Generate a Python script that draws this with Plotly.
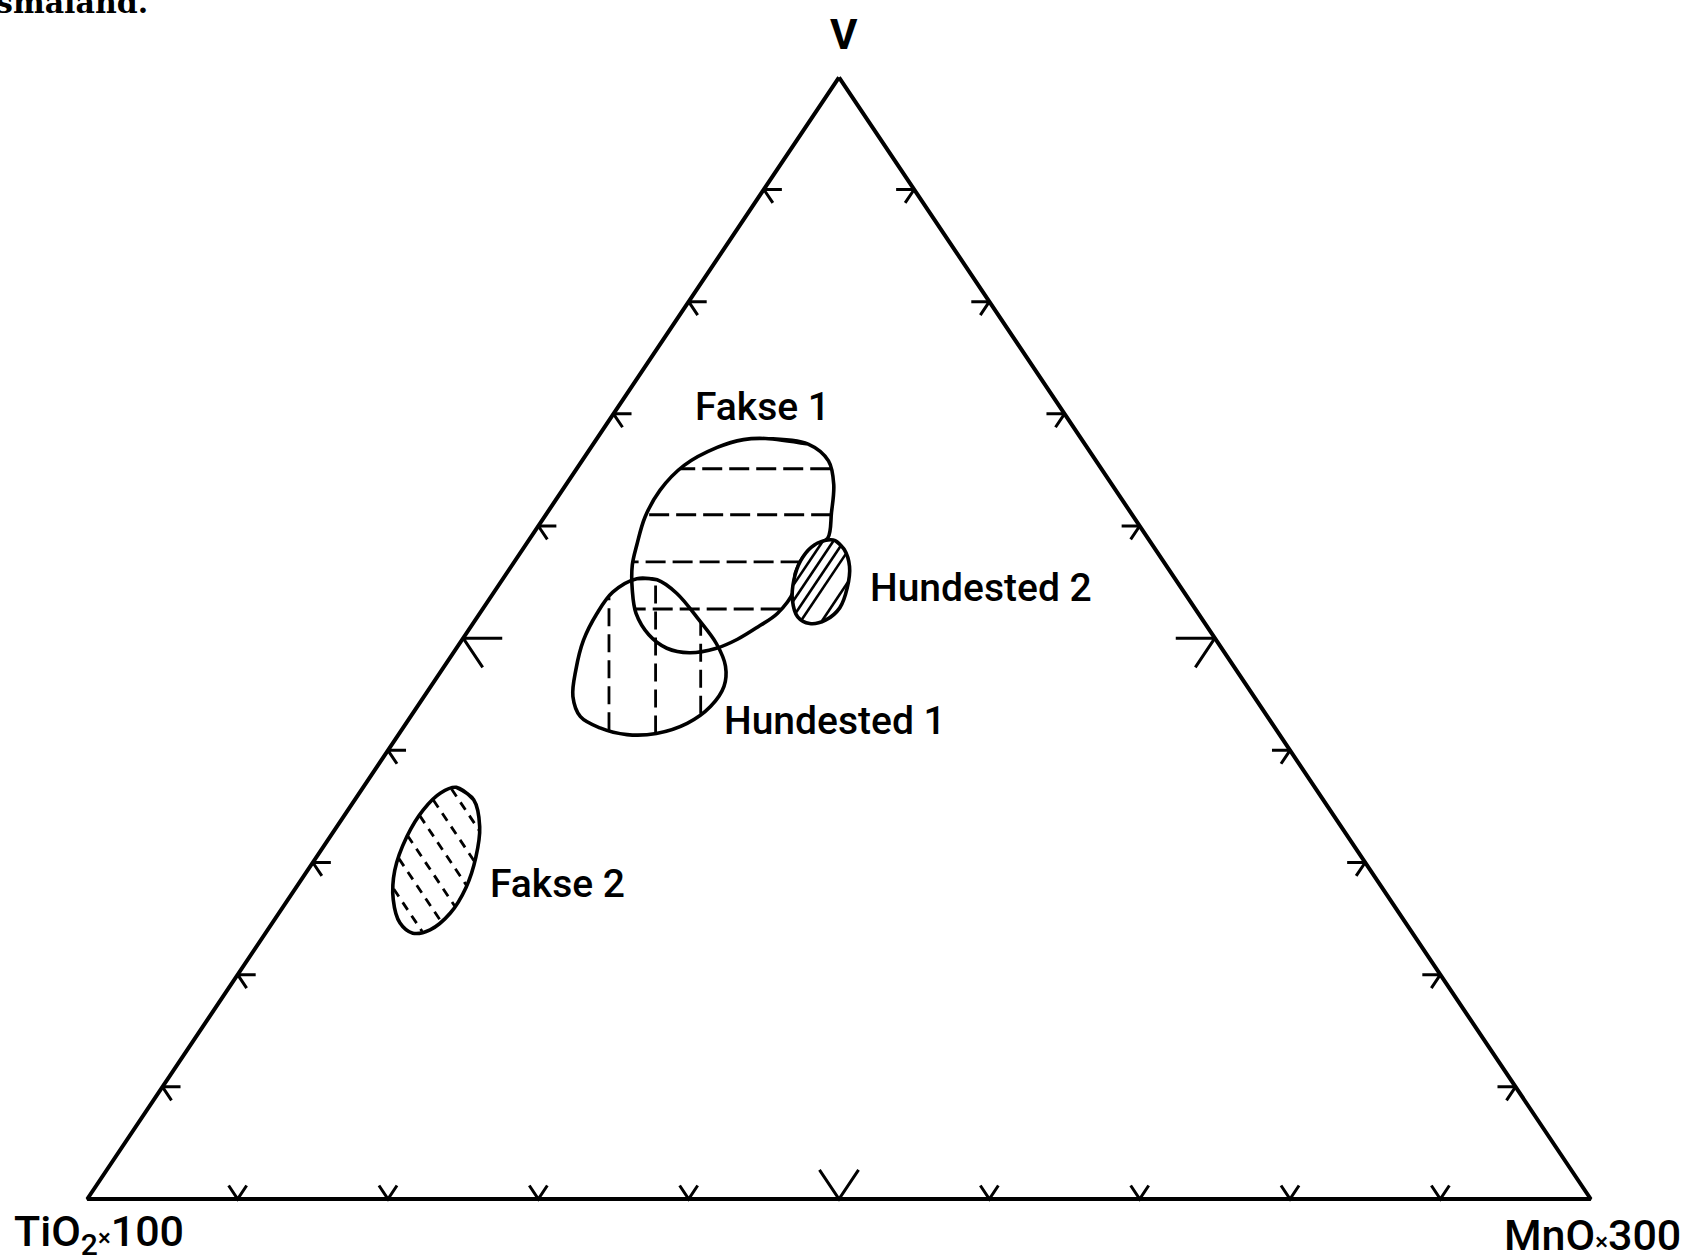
import numpy as np
import plotly.graph_objects as go

fakse1_v    = [67.8, 67.3, 65.8, 63.7, 61.2, 58.9, 58.2, 57.1, 55.8, 54.1, 52.2, 51.0, 49.9,
               49.1, 48.7, 49.1, 50.3, 52.2, 54.3, 56.5, 58.3, 60.8, 63.2, 65.4, 67.0, 67.7]
fakse1_tio2 = [21.0, 18.4, 17.8, 18.5, 19.9, 21.3, 22.5, 23.9, 25.0, 26.0, 28.0, 29.9, 31.8,
               33.6, 35.6, 36.9, 37.5, 37.4, 36.6, 35.5, 34.3, 32.5, 30.3, 27.6, 24.6, 22.5]
fakse1_mno  = [11.2, 14.3, 16.4, 17.8, 18.9, 19.8, 19.3, 19.0, 19.2, 19.9, 19.8, 19.1, 18.3,
               17.3, 15.7, 14.0, 12.2, 10.4, 9.1, 8.0, 7.4, 6.7, 6.5, 7.0, 8.4, 9.8]

hund1_v    = [55.3, 55.2, 54.0, 51.6, 49.5, 47.5, 45.7, 43.9, 42.4, 41.5, 41.4, 42.0, 43.0,
              44.8, 47.2, 49.8, 52.2, 54.1]
hund1_tio2 = [35.8, 34.5, 33.8, 33.5, 33.4, 33.8, 34.8, 36.6, 38.9, 41.4, 43.4, 44.9, 45.7,
              45.3, 43.9, 42.1, 40.0, 38.0]
hund1_mno  = [8.9, 10.3, 12.2, 14.9, 17.1, 18.7, 19.5, 19.5, 18.7, 17.1, 15.2, 13.1, 11.3,
              9.9, 8.9, 8.1, 7.8, 7.9]

hund2_v    = [58.7, 57.9, 56.4, 54.5, 52.7, 51.6, 51.3, 51.9, 53.4, 55.2, 56.9, 58.1, 58.7]
hund2_tio2 = [20.9, 20.7, 21.1, 22.2, 23.6, 25.1, 26.3, 26.8, 26.4, 25.4, 24.1, 22.8, 21.6]
hund2_mno  = [20.4, 21.4, 22.5, 23.3, 23.7, 23.3, 22.4, 21.3, 20.2, 19.4, 19.0, 19.1, 19.7]

fakse2_v    = [36.7, 35.6, 33.2, 30.5, 27.8, 25.5, 24.0, 23.7, 24.6, 26.7, 29.3, 32.3, 34.7, 36.2]
fakse2_tio2 = [57.1, 56.5, 57.3, 58.9, 60.9, 63.1, 65.2, 66.5, 66.9, 66.3, 64.9, 62.6, 60.3, 58.4]
fakse2_mno  = [6.2, 7.9, 9.5, 10.6, 11.3, 11.4, 10.8, 9.8, 8.5, 7.0, 5.8, 5.1, 5.0, 5.4]

# Niveaux des hachures (%)
fakse1_hatch_v     = [65.1, 61.0, 56.8, 52.6]
hund1_hatch_diff   = [-30.6, -24.4, -18.4]          # MnO - TiO2 (traits verticaux)
hund2_hatch_mno    = [19.6, 20.3, 21.0, 21.7, 22.4, 23.1]
fakse2_hatch_tio2  = [57.5, 59.2, 60.8, 62.5, 64.1, 65.8]

# Graduations des côtés (%)
tick_values = [10, 20, 30, 40, 50, 60, 70, 80, 90]
big_tick = 50

# Étiquettes des champs : texte, V, TiO2, MnO (coin gauche du texte)
field_labels = [('Fakse 1', 70.6, 24.4, 5.0),
                ('Hundested 2', 54.5, 20.8, 24.7),
                ('Hundested 1', 42.6, 36.5, 20.9),
                ('Fakse 2', 28.1, 59.3, 12.6)]


def to_xy(v, tio2, mno):
    # Passage ternaire -> plan (TiO2 en bas à gauche, MnO en bas à droite, V en haut)
    v, tio2, mno = (np.asarray(a, dtype=float) for a in (v, tio2, mno))
    s = v + tio2 + mno
    return (mno + v / 2) / s, v / s


HATCH_F = {
    'V': lambda x, y: 100 * y,
    'TiO2': lambda x, y: 100 * (1 - x - y / 2),
    'MnO': lambda x, y: 100 * (x - y / 2),
    'MnO-TiO2': lambda x, y: 100 * (2 * x - 1),
}


def hatch(x, y, kind, levels):
    # Découpe des lignes iso-niveau par le contour du champ
    f = HATCH_F[kind]
    gx, gy = f(1, 0) - f(0, 0), f(0, 1) - f(0, 0)
    dx, dy = -gy, gx
    vals0 = f(x, y)
    n = len(x)
    xs, ys = [], []
    for lev in levels:
        vals = vals0 - lev
        pts = []
        for i in range(n):
            j = (i + 1) % n
            if vals[i] * vals[j] < 0:
                t = vals[i] / (vals[i] - vals[j])
                pts.append((x[i] + t * (x[j] - x[i]), y[i] + t * (y[j] - y[i])))
        pts.sort(key=lambda p: p[0] * dx + p[1] * dy)
        for k in range(0, len(pts) - 1, 2):
            xs += [pts[k][0], pts[k + 1][0], None]
            ys += [pts[k][1], pts[k + 1][1], None]
    return xs, ys


def closed(x, y):
    return list(x) + [x[0], x[1]], list(y) + [y[0], y[1]]


def tick_marks(values, d):
    v, ti, mn = [], [], []
    for t in values:
        # côté gauche (MnO = 0)
        v += [t, t, t - d, None]; ti += [100 - t - d, 100 - t, 100 - t, None]; mn += [d, 0, d, None]
        # côté droit (TiO2 = 0)
        v += [t, t, t - d, None]; ti += [d, 0, d, None]; mn += [100 - t - d, 100 - t, 100 - t, None]
        # base (V = 0)
        v += [d, 0, d, None]; ti += [100 - t, 100 - t, 100 - t - d, None]; mn += [t - d, t, t, None]
    xs, ys = [], []
    for a, b, c in zip(v, ti, mn):
        if a is None:
            xs.append(None); ys.append(None)
        else:
            px, py = to_xy(a, b, c)
            xs.append(float(px)); ys.append(float(py))
    return xs, ys


fig = go.Figure()

# Triangle
tx, ty = to_xy([100, 0, 0, 100], [0, 100, 0, 0], [0, 0, 100, 0])
fig.add_trace(go.Scatter(x=tx, y=ty, mode='lines', line=dict(color='black', width=4)))

# Graduations
small = [t for t in tick_values if t != big_tick]
for vals, d in [(small, 1.2), ([big_tick], 2.6)]:
    kx, ky = tick_marks(vals, d)
    fig.add_trace(go.Scatter(x=kx, y=ky, mode='lines', line=dict(color='black', width=3)))

outline = dict(color='black', width=3.6)
dash_w = 2.8

# Fakse 1
fx, fy = to_xy(fakse1_v, fakse1_tio2, fakse1_mno)
cx, cy = closed(fx, fy)
fig.add_trace(go.Scatter(x=cx, y=cy, mode='lines', line=dict(outline, shape='spline')))
hx, hy = hatch(fx, fy, 'V', fakse1_hatch_v)
fig.add_trace(go.Scatter(x=hx, y=hy, mode='lines', line=dict(color='black', width=dash_w, dash='20px,7px')))

# Hundested 1
h1x, h1y = to_xy(hund1_v, hund1_tio2, hund1_mno)
cx, cy = closed(h1x, h1y)
fig.add_trace(go.Scatter(x=cx, y=cy, mode='lines', line=dict(outline, shape='spline')))
hx, hy = hatch(h1x, h1y, 'MnO-TiO2', hund1_hatch_diff)
fig.add_trace(go.Scatter(x=hx, y=hy, mode='lines', line=dict(color='black', width=dash_w, dash='18px,8px')))

# Hundested 2
h2x, h2y = to_xy(hund2_v, hund2_tio2, hund2_mno)
cx, cy = closed(h2x, h2y)
fig.add_trace(go.Scatter(x=cx, y=cy, mode='lines', fill='toself', fillcolor='white',
                         line=dict(outline, shape='spline')))
hx, hy = hatch(h2x, h2y, 'MnO', hund2_hatch_mno)
fig.add_trace(go.Scatter(x=hx, y=hy, mode='lines', line=dict(color='black', width=2.6)))

# Fakse 2
f2x, f2y = to_xy(fakse2_v, fakse2_tio2, fakse2_mno)
cx, cy = closed(f2x, f2y)
fig.add_trace(go.Scatter(x=cx, y=cy, mode='lines', line=dict(outline, shape='spline')))
hx, hy = hatch(f2x, f2y, 'TiO2', fakse2_hatch_tio2)
fig.add_trace(go.Scatter(x=hx, y=hy, mode='lines', line=dict(color='black', width=dash_w, dash='9px,7px')))

# Textes
font = dict(family='Roboto', size=39, color='black', weight=500)
annotations = []
for name, v, ti, mn in field_labels:
    lx, ly = to_xy(v, ti, mn)
    annotations.append(dict(x=float(lx), y=float(ly), text=name, showarrow=False,
                            xanchor='left', yanchor='middle', font=font))

axis_font = dict(family='Roboto', size=43, color='black', weight=500)
annotations += [
    dict(x=float(tx[0]), y=float(ty[0]), text='<b>V</b>', showarrow=False, xshift=5, yshift=43,
         xanchor='center', yanchor='middle', font=dict(family='Roboto', size=42, color='black')),
    dict(x=float(tx[1]), y=float(ty[1]), text="TiO<sub>2</sub><span style='font-size:24px'>×</span>100",
         showarrow=False, xshift=-75, yshift=-35, xanchor='left', yanchor='middle', font=axis_font),
    dict(x=float(tx[2]), y=float(ty[2]), text="MnO<span style='font-size:24px'>×</span>300",
         showarrow=False, xshift=92, yshift=-36, xanchor='right', yanchor='middle', font=axis_font),
    dict(x=-6 / 1690, y=1 - 22 / 1256, xref='paper', yref='paper', text='<b>småland.</b>',
         showarrow=False, xanchor='left', yanchor='bottom',
         font=dict(family='DejaVu Serif', size=30, color='black')),
]

fig.update_layout(
    width=1690, height=1256,
    margin=dict(l=0, r=0, t=0, b=0),
    paper_bgcolor='white', plot_bgcolor='white',
    showlegend=False,
    xaxis=dict(range=[-0.05807, 1.06605], visible=False),
    yaxis=dict(range=[-0.05082, 1.06891], visible=False),
    annotations=annotations,
)

# la page garde sinon la marge de 8 px du navigateur
fig.write_html("out.html", config={'displayModeBar': False},
               post_script="document.body.style.margin='0';")
